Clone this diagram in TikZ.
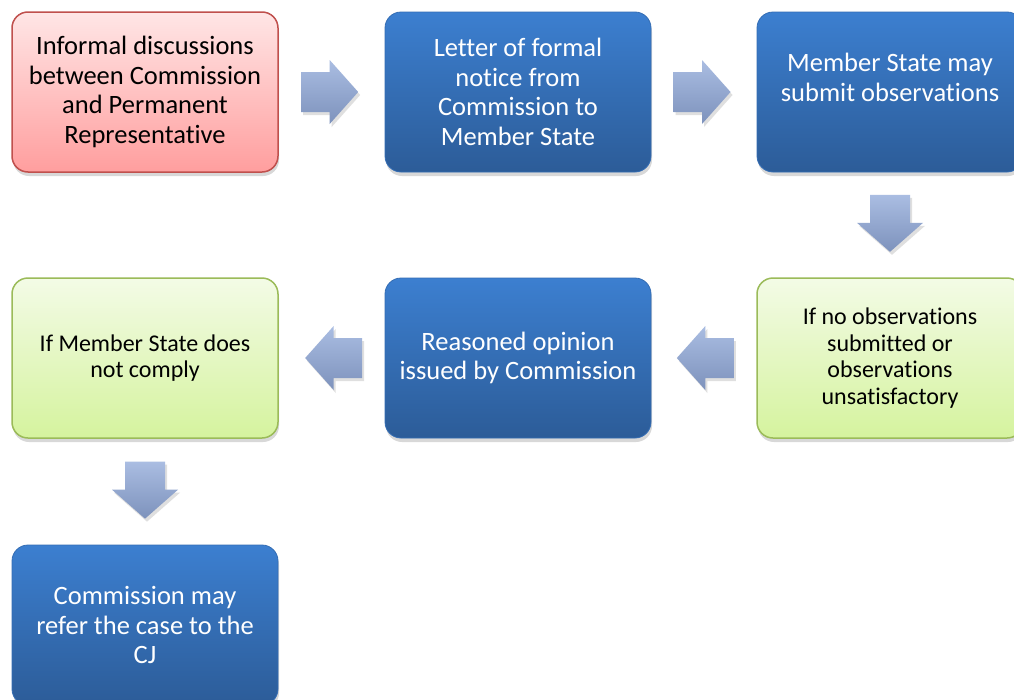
\documentclass[tikz,border=0pt]{standalone}
\usepackage{fontspec}
\setmainfont{Carlito}[Ligatures={NoCommon}]
\usetikzlibrary{shadows,calc}
\definecolor{pinkT}{HTML}{FFE6E6}
\definecolor{pinkB}{HTML}{FF9E9E}
\definecolor{pinkL}{HTML}{C0504D}
\definecolor{blueT}{HTML}{3C7FD0}
\definecolor{blueB}{HTML}{2C5C98}
\definecolor{greenT}{HTML}{F3FBE6}
\definecolor{greenB}{HTML}{D5F39E}
\definecolor{greenL}{HTML}{9BBB59}
\definecolor{arrT}{HTML}{AABDE2}
\definecolor{arrB}{HTML}{7D92BC}
\tikzset{
  box/.style={rectangle, rounded corners=16pt, minimum width=266pt, minimum height=160pt,
    line width=1.5pt, align=center, inner sep=4pt,
    drop shadow={opacity=0.3, shadow xshift=1pt, shadow yshift=-4pt}},
  pinkbox/.style={box, draw=pinkL, top color=pinkT, bottom color=pinkB, text=black},
  bluebox/.style={box, draw=blueB!50!blueT, line width=0.8pt, top color=blueT, bottom color=blueB, text=white},
  greenbox/.style={box, draw=greenL, top color=greenT, bottom color=greenB, text=black},
  txtbig/.style={font=\fontsize{26.5}{29.5}\selectfont},
  txtsmall/.style={font=\fontsize{24}{26.5}\selectfont},
  blockarrow/.style={top color=arrT, bottom color=arrB, draw=none,
    drop shadow={opacity=0.25, shadow xshift=2pt, shadow yshift=-3pt}}
}
\newcommand{\RArrow}[1]{\path[blockarrow] (#1) ++(-28.5,-20) -- ++(28.5,0) -- ++(0,-12) -- ++(28.5,32) -- ++(-28.5,32) -- ++(0,-12) -- ++(-28.5,0) -- cycle;}
\newcommand{\LArrow}[1]{\path[blockarrow] (#1) ++(28.5,-20) -- ++(-28.5,0) -- ++(0,-12) -- ++(-28.5,32) -- ++(28.5,32) -- ++(0,-12) -- ++(28.5,0) -- cycle;}
\newcommand{\DArrow}[1]{\path[blockarrow] (#1) ++(-20,-28.5) -- ++(40,0) -- ++(0,28) -- ++(13,0) -- ++(-33,29) -- ++(-33,-29) -- ++(13,0) -- cycle;}
\begin{document}
\begin{tikzpicture}[x=1pt,y=-1pt]
\clip (0,0) rectangle (1014,699);
\fill[white] (0,0) rectangle (1014,699);
\node[pinkbox,txtbig] (b1) at (145,92) {Informal discussions\\between Commission\\and Permanent\\Representative};
\node[bluebox,txtbig] (b2) at (518,92) {Letter of formal\\notice from\\Commission to\\Member State};
\node[bluebox,txtbig] (b3) at (890,92) {Member State may\\submit observations\\\mbox{}};
\node[greenbox,txtsmall] (b4) at (890,358) {If no observations\\submitted or\\observations\\unsatisfactory};
\node[bluebox,txtbig] (b5) at (518,358) {Reasoned opinion\\issued by Commission};
\node[greenbox,txtsmall] (b6) at (145,358) {If Member State does\\not comply};
\node[bluebox,txtbig] (b7) at (145,625) {Commission may\\refer the case to the\\CJ};
\coordinate (a1) at ($(b1.east)!0.5!(b2.west)+(-2,0)$);
\coordinate (a2) at ($(b2.east)!0.5!(b3.west)+(-2,0)$);
\coordinate (a3) at ($(b3.south)!0.5!(b4.north)+(0,-1.5)$);
\coordinate (a4) at ($(b4.west)!0.5!(b5.east)+(1.5,0)$);
\coordinate (a5) at ($(b5.west)!0.5!(b6.east)+(2,0)$);
\coordinate (a6) at ($(b6.south)!0.5!(b7.north)+(0,-1.5)$);
\RArrow{a1}
\RArrow{a2}
\DArrow{a3}
\LArrow{a4}
\LArrow{a5}
\DArrow{a6}
\end{tikzpicture}
\end{document}
